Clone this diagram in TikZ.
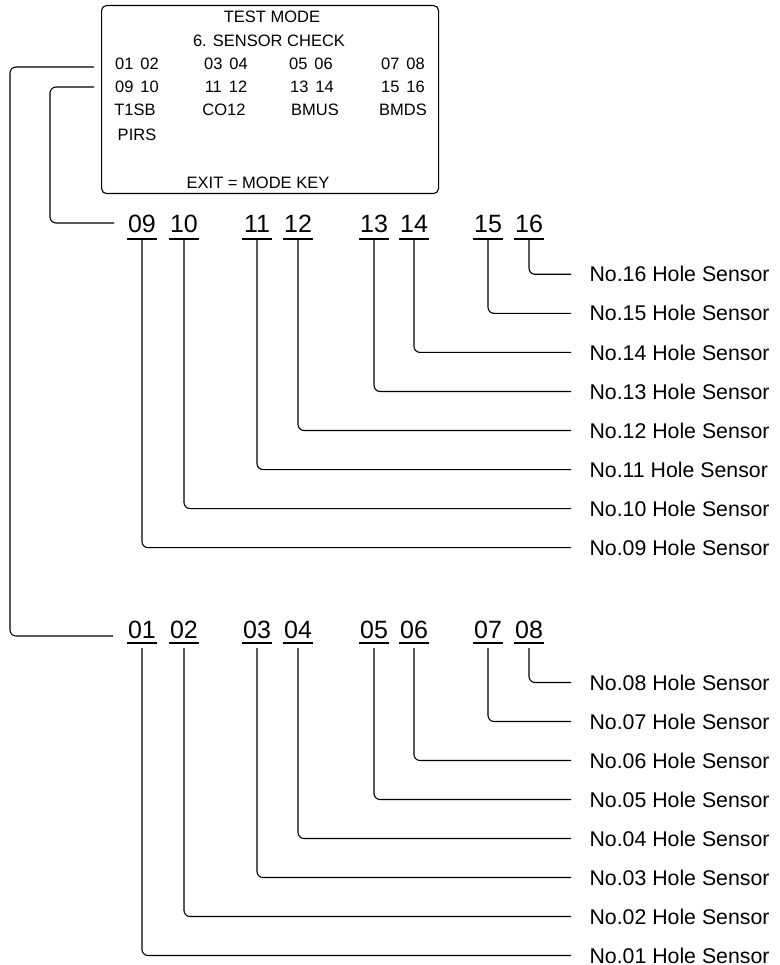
\documentclass[tikz,border=0pt]{standalone}
\usepackage{fontspec}
\setmainfont{Liberation Sans}
\begin{document}
\begin{tikzpicture}[x=1pt,y=-1pt, line width=1.1pt,
  boxtxt/.style={font=\fontsize{16.5}{18}\selectfont, inner sep=0pt},
  bignum/.style={font=\fontsize{25}{28}\selectfont, inner sep=0pt, anchor=base},
  lbl/.style={font=\fontsize{21.3}{24}\selectfont, inner sep=0pt, anchor=west},
  wire/.style={rounded corners=6pt}]
\useasboundingbox (0,0) rectangle (779,965);
% screen
\node[draw, rounded corners=5pt, minimum width=337pt, minimum height=188pt,
      inner sep=0pt, anchor=north west] (screen) at (101,5) {};
\node[boxtxt] (t1) at (272,17) {TEST MODE};
\node[boxtxt] (t2) at (269,41) {6. SENSOR CHECK};
\node[boxtxt] (r1a) at (137,64) {01\hspace{7pt}02};
\node[boxtxt] (r1b) at (226,64) {03\hspace{7pt}04};
\node[boxtxt] (r1c) at (311,64) {05\hspace{7pt}06};
\node[boxtxt] (r1d) at (403,64) {07\hspace{7pt}08};
\node[boxtxt] (r2a) at (137,87) {09\hspace{7pt}10};
\node[boxtxt] (r2b) at (226,87) {11\hspace{7pt}12};
\node[boxtxt] (r2c) at (312,87) {13\hspace{7pt}14};
\node[boxtxt] (r2d) at (403,87) {15\hspace{7pt}16};
\node[boxtxt] (r3a) at (135,110) {T1SB};
\node[boxtxt] (r3b) at (224,110) {CO12};
\node[boxtxt] (r3c) at (315,110) {BMUS};
\node[boxtxt] (r3d) at (403,110) {BMDS};
\node[boxtxt] (r4a) at (137,135) {PIRS};
\node[boxtxt] (ex) at (258,183) {EXIT = MODE KEY};
% upper group
\foreach \n/\x/\k in {16/529/0,15/488/1,14/414/2,13/374/3,12/298/4,11/257/5,10/184/6,09/142/7}{
  \node[bignum] (n\n) at (\x,233) {\n};
  \coordinate (u\n) at (\x,239);
  \draw ([xshift=-15pt]u\n) -- ([xshift=15pt]u\n);
  \node[lbl] (l\n) at (589,{274.3+39.05*\k}) {No.\n\ Hole Sensor};
  \draw[wire] (u\n) |- ([xshift=-18pt]l\n.west);
}
% lower group
\foreach \n/\x/\k in {08/529/0,07/488/1,06/414/2,05/374/3,04/298/4,03/257/5,02/184/6,01/142/7}{
  \node[bignum] (n\n) at (\x,638) {\n};
  \coordinate (u\n) at (\x,643);
  \draw ([xshift=-15pt]u\n) -- ([xshift=15pt]u\n);
  \node[lbl] (l\n) at (589,{682.5+39.0*\k}) {No.\n\ Hole Sensor};
  \draw[wire] ([yshift=-5pt]u\n) |- ([xshift=-18pt]l\n.west);
}
% brackets from screen rows to number groups
\coordinate (bo) at (113,636);
\coordinate (bi) at (114,223);
\draw[wire] ([xshift=-7pt]screen.west |- 0,67) -| (10,400) |- (bo);
\draw[wire] ([xshift=-7pt]screen.west |- 0,87) -| (50,150) |- (bi);
\end{tikzpicture}
\end{document}
